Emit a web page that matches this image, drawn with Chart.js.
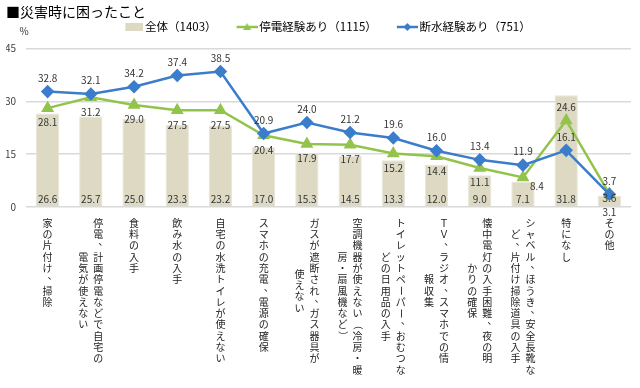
<!DOCTYPE html>
<html lang="ja">
<head>
<meta charset="utf-8">
<script src="https://cdn.jsdelivr.net/npm/chart.js@4.4.1/dist/chart.umd.min.js"></script>
<style>
  html, body { margin: 0; padding: 0; background: #fff; }
  #wrap { width: 640px; height: 388px; }
</style>
</head>
<body>
<div id="wrap"><canvas id="disasterChart" width="640" height="388"></canvas></div>
<script>
// 災害時に困ったこと（%）
// each category is a list of vertical columns, read right to left
const categories = [
  ['家の片付け、掃除'],
  ['停電、計画停電などで自宅の', '電気が使えない'],
  ['食料の入手'],
  ['飲み水の入手'],
  ['自宅の水洗トイレが使えない'],
  ['スマホの充電、電源の確保'],
  ['ガスが遮断され、ガス器具が', '使えない'],
  ['空調機器が使えない（冷房・暖', '房・扇風機など）'],
  ['トイレットペーパー、おむつな', 'どの日用品の入手'],
  ['ＴＶ、ラジオ、スマホでの情', '報収集'],
  ['懐中電灯の入手困難、夜の明', 'かりの確保'],
  ['シャベル、ほうき、安全長靴な', 'ど、片付け掃除道具の入手'],
  ['特になし'],
  ['その他']
];
const totalValues = [26.6, 25.7, 25.0, 23.3, 23.2, 17.0, 15.3, 14.5, 13.3, 12.0, 9.0, 7.1, 31.8, 3.1];
const outageValues = [28.1, 31.2, 29.0, 27.5, 27.5, 20.4, 17.9, 17.7, 15.2, 14.4, 11.1, 8.4, 24.6, 3.7];
const waterCutValues = [32.8, 32.1, 34.2, 37.4, 38.5, 20.9, 24.0, 21.2, 19.6, 16.0, 13.4, 11.9, 16.1, 3.6];
const seriesNames = ['全体（1403）', '停電経験あり（1115）', '断水経験あり（751）'];
const yTicks = [0, 15, 30, 45];

const BAR_COLOR = '#DDD9C3';
const GREEN = '#92C44B';
const BLUE = '#3B7DCB';
const FONT = '"Noto Sans CJK JP", "Noto Sans", sans-serif';

Chart.defaults.font.family = FONT;

// small canvases used as legend symbols
const makeIcon = (iconWidth, draw) => {
  const c = document.createElement('canvas');
  c.width = 41;
  c.height = 12;
  const g = c.getContext('2d');
  g.translate(41 - iconWidth, 0);
  draw(g, iconWidth);
  return c;
};
const barIcon = makeIcon(18, (g, w) => {
  g.fillStyle = BAR_COLOR;
  g.fillRect(0, 2, w, 8);
});
const lineIcon = (color, marker) => makeIcon(21, (g, w) => {
  g.strokeStyle = color;
  g.fillStyle = color;
  g.lineWidth = 2.5;
  g.beginPath();
  g.moveTo(0, 6);
  g.lineTo(w, 6);
  g.stroke();
  g.beginPath();
  if (marker === 'triangle') {
    g.moveTo(w / 2, 2);
    g.lineTo(w / 2 + 4, 9);
    g.lineTo(w / 2 - 4, 9);
  } else {
    g.moveTo(w / 2, 2);
    g.lineTo(w / 2 + 4, 6);
    g.lineTo(w / 2, 10);
    g.lineTo(w / 2 - 4, 6);
  }
  g.closePath();
  g.fill();
});
const legendIcons = [barIcon, lineIcon(GREEN, 'triangle'), lineIcon(BLUE, 'diamond')];

// vertical (tategaki) category labels under the axis
const ROTATED = 'ー（）()～';
const PUNCT = '、。';
const categoryText = {
  id: 'categoryText',
  afterDraw(chart) {
    const { ctx, scales: { x, y } } = chart;
    const top = y.getPixelForValue(0) + 16;
    const pitch = 11.3;
    const colGap = 15;
    ctx.save();
    ctx.font = '10px ' + FONT;
    ctx.fillStyle = '#222';
    ctx.textAlign = 'center';
    ctx.textBaseline = 'middle';
    categories.forEach((cols, i) => {
      const cx = x.getPixelForValue(i);
      const longest = Math.max(...cols.map(c => [...c].length));
      cols.forEach((col, j) => {
        const chars = [...col];
        const colX = cx + ((cols.length - 1) / 2 - j) * colGap;
        const start = top + (longest - chars.length) / 2 * pitch;
        chars.forEach((ch, k) => {
          const cy = start + k * pitch;
          if (ROTATED.includes(ch)) {
            ctx.save();
            ctx.translate(colX, cy);
            ctx.rotate(Math.PI / 2);
            ctx.fillText(ch, 0, 0);
            ctx.restore();
          } else if (PUNCT.includes(ch)) {
            ctx.fillText(ch, colX + 5, cy - 4);
          } else {
            ctx.fillText(ch, colX, cy);
          }
        });
      });
    });
    // unit above the value axis
    ctx.font = '10px ' + FONT;
    ctx.fillStyle = '#333';
    ctx.fillText('%', 24, 31);
    ctx.restore();
  }
};

// value labels: bars at their base, lines above/below the markers
const valueLabels = {
  id: 'valueLabels',
  afterDatasetsDraw(chart) {
    const ctx = chart.ctx;
    const zero = chart.scales.y.getPixelForValue(0);
    const bars = chart.getDatasetMeta(0).data;
    const greens = chart.getDatasetMeta(1).data;
    const blues = chart.getDatasetMeta(2).data;
    ctx.save();
    ctx.font = '10px ' + FONT;
    ctx.fillStyle = '#333';
    ctx.textAlign = 'center';
    ctx.textBaseline = 'middle';
    totalValues.forEach((v, i) => {
      const bar = bars[i];
      const barLabelY = zero - bar.y < 14 ? zero + 5 : zero - 8;
      ctx.fillText(v.toFixed(1), bar.x, barLabelY);

      const g = greens[i];
      const b = blues[i];
      let gx = g.x, gy, by;
      if (outageValues[i] > waterCutValues[i]) {
        gy = g.y - 13;
        by = (b.y - g.y < 12) ? Math.min(b.y + 14, zero - 9) : b.y - 13.5;
      } else {
        gy = g.y + 14.5;
        by = b.y - 13.5;
        if (Math.abs(gy - barLabelY) < 11) {
          gx += 14;
          gy = g.y + 9;
        }
      }
      ctx.fillText(outageValues[i].toFixed(1), gx, gy);
      ctx.fillText(waterCutValues[i].toFixed(1), b.x, by);
    });
    ctx.restore();
  }
};

// extra room between legend and plot
const legendSpacing = {
  id: 'legendSpacing',
  beforeInit(chart) {
    const fit = chart.legend.fit;
    chart.legend.fit = function () {
      fit.bind(chart.legend)();
      this.height += 6;
    };
  }
};

const ctx = document.getElementById('disasterChart').getContext('2d');
new Chart(ctx, {
  type: 'bar',
  data: {
    labels: categories.map(c => c.join('')),
    datasets: [
      {
        type: 'bar',
        label: seriesNames[0],
        data: totalValues,
        backgroundColor: BAR_COLOR,
        borderColor: '#E8E6DA',
        borderWidth: 1,
        barPercentage: 0.54,
        categoryPercentage: 1,
        order: 2,
      },
      {
        type: 'line',
        label: seriesNames[1],
        data: outageValues,
        borderColor: GREEN,
        backgroundColor: GREEN,
        borderWidth: 2.5,
        pointStyle: 'triangle',
        pointRadius: 5,
        order: 1,
      },
      {
        type: 'line',
        label: seriesNames[2],
        data: waterCutValues,
        borderColor: BLUE,
        backgroundColor: BLUE,
        borderWidth: 2.5,
        pointStyle: 'rectRot',
        pointRadius: 5,
        order: 0,
      },
    ],
  },
  options: {
    responsive: false,
    animation: false,
    layout: { padding: { left: 6, right: 9, top: 0, bottom: 181 } },
    plugins: {
      title: {
        display: true,
        text: '■災害時に困ったこと',
        align: 'start',
        color: '#000',
        font: { size: 14, weight: 'normal', lineHeight: 0.8 },
        padding: { top: 6, bottom: 0 },
      },
      legend: {
        display: true,
        position: 'top',
        labels: {
          usePointStyle: true,
          pointStyleWidth: 33,
          padding: 4,
          color: '#222',
          font: { size: 11.5 },
          generateLabels: () => seriesNames.map((name, i) => ({
            text: name,
            pointStyle: legendIcons[i],
            fillStyle: 'transparent',
            strokeStyle: 'transparent',
            lineWidth: 0,
            hidden: false,
            datasetIndex: i,
          })),
        },
      },
      tooltip: { enabled: false },
    },
    scales: {
      x: {
        display: false,
        offset: true,
      },
      y: {
        min: 0,
        max: 45,
        afterBuildTicks: (scale) => { scale.ticks = yTicks.map(v => ({ value: v })); },
        afterFit: (scale) => { scale.width = 20; },
        ticks: { padding: 10, color: '#404040', font: { size: 10 } },
        grid: { color: '#D9D9D9', lineWidth: 1.5, drawTicks: false },
        border: { display: false },
      },
    },
  },
  plugins: [legendSpacing, valueLabels, categoryText],
});
</script>
</body>
</html>
